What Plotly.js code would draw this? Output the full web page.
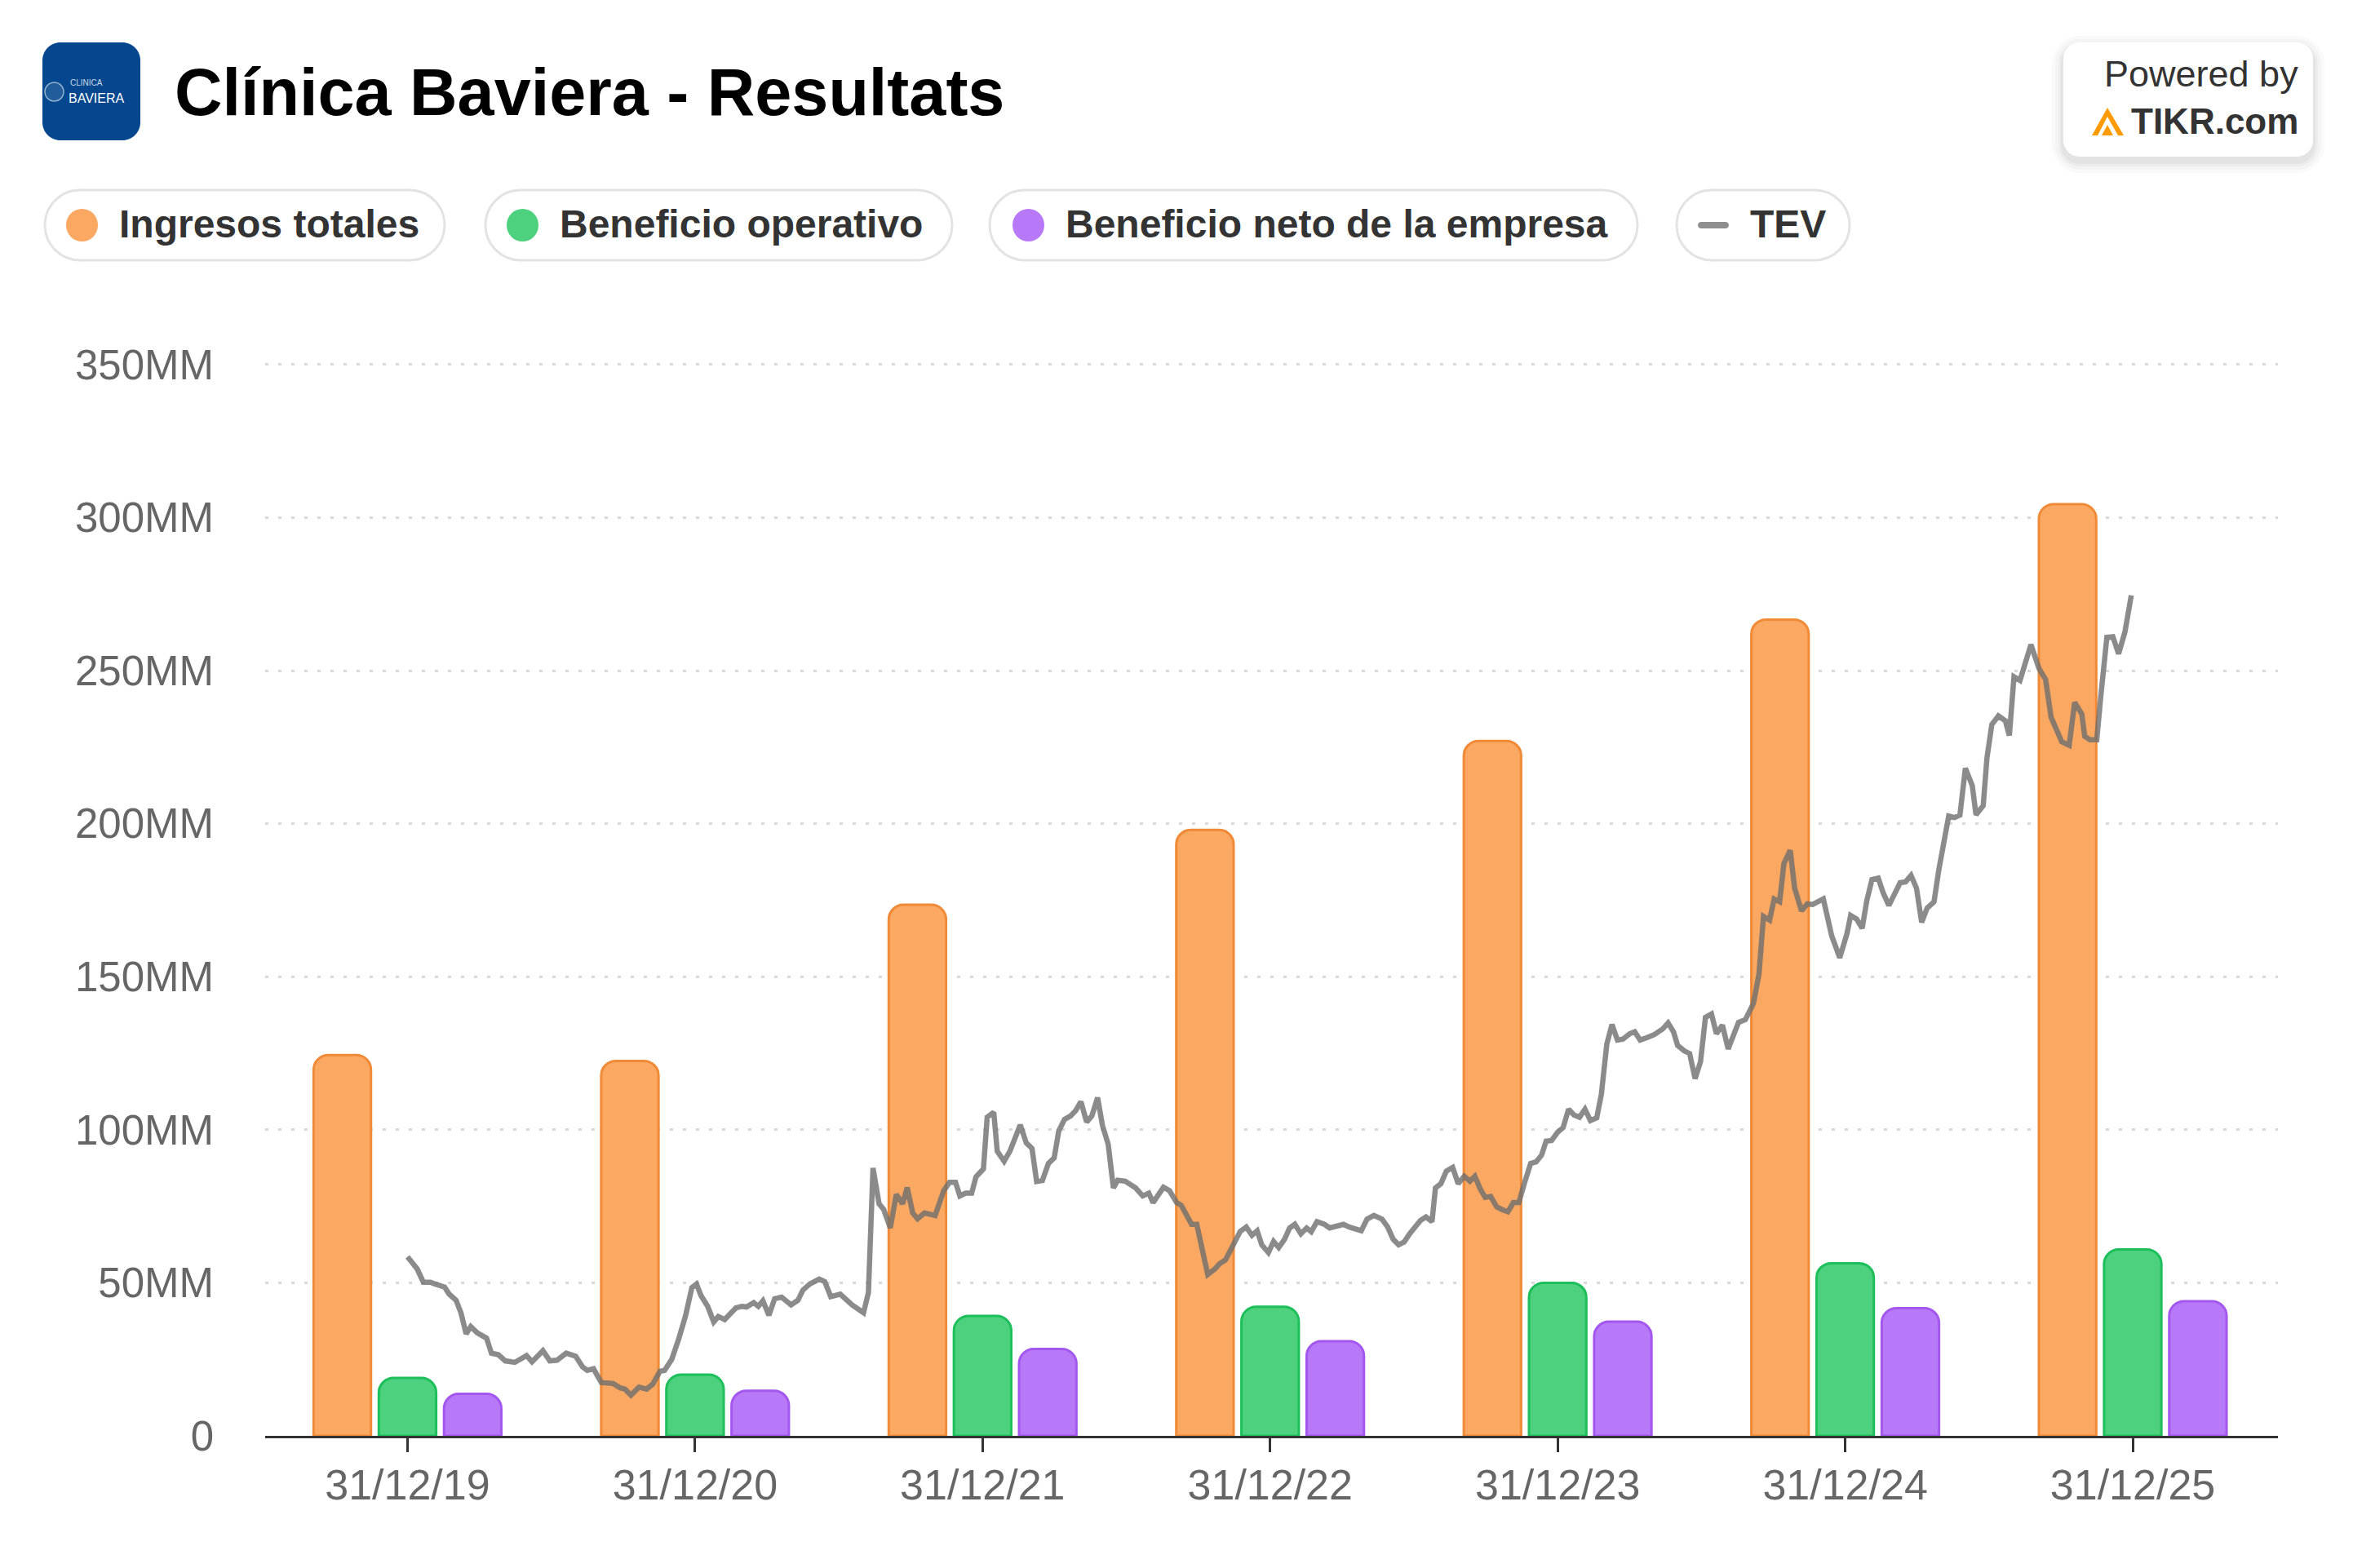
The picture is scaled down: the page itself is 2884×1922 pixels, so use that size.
<!DOCTYPE html>
<html>
<head>
<meta charset="utf-8">
<script src="https://cdn.plot.ly/plotly-3.0.1.min.js"></script>
<style>
html,body{margin:0;padding:0;background:#fff;}
#chart{width:2884px;height:1922px;}
</style>
</head>
<body>
<div id="chart"></div>
<script>
// ---------- DATA ----------
const categories = ['31/12/19','31/12/20','31/12/21','31/12/22','31/12/23','31/12/24','31/12/25'];
const yearIdx = [0,1,2,3,4,5,6];
const ingresosTotales = [124.4,122.5,173.5,198.0,227.0,266.7,304.4];
const beneficioOperativo = [18.9,20.0,39.2,42.2,50.0,56.4,60.9];
const beneficioNeto = [13.7,14.7,28.4,30.9,37.3,41.7,44.0];
const seriesNames = ['Ingresos totales','Beneficio operativo','Beneficio neto de la empresa','TEV'];
const yTickVals = [0,50,100,150,200,250,300,350];
const yTickText = ['0','50MM','100MM','150MM','200MM','250MM','300MM','350MM'];
// TEV: time in years after 31/12/19, value in MM
const tevT = [0.00,0.015,0.034,0.055,0.080,0.096,0.129,0.145,0.169,0.186,0.204,0.220,0.243,0.275,0.292,0.316,0.340,0.373,0.414,0.433,0.471,0.495,0.520,0.552,0.585,0.609,0.625,0.647,0.674,0.715,0.739,0.756,0.777,0.805,0.832,0.853,0.878,0.894,0.919,0.943,0.967,0.989,1.005,1.021,1.044,1.065,1.081,1.103,1.142,1.163,1.179,1.204,1.220,1.236,1.257,1.277,1.301,1.334,1.358,1.375,1.399,1.432,1.451,1.472,1.505,1.546,1.586,1.603,1.619,1.640,1.656,1.679,1.700,1.722,1.738,1.757,1.774,1.798,1.835,
1.865,1.885,1.906,1.921,1.941,1.962,1.977,2.003,2.016,2.039,2.051,2.075,2.095,2.131,2.152,2.172,2.188,2.208,2.229,2.249,2.265,2.285,2.306,2.324,2.342,2.362,2.380,2.400,2.417,2.437,2.455,2.470,2.496,2.532,2.557,2.578,2.593,2.629,2.650,2.675,2.691,2.711,2.727,2.745,2.763,2.783,2.809,2.824,2.845,2.865,2.896,2.917,2.937,2.955,2.971,2.994,3.012,3.030,3.050,3.068,3.086,3.107,3.127,3.143,3.163,3.189,3.207,3.255,3.276,3.317,3.337,3.361,3.389,3.409,
3.428,3.447,3.466,3.485,3.523,3.542,3.563,3.575,3.594,3.613,3.635,3.654,3.675,3.695,3.712,3.731,3.748,3.767,3.788,3.807,3.827,3.846,3.865,3.884,3.906,3.925,3.944,3.960,3.979,4.000,4.019,4.038,4.057,4.076,4.095,4.114,4.136,4.152,4.161,4.171,4.189,4.208,4.227,4.251,4.268,4.287,4.308,4.336,4.365,4.384,4.403,4.417,4.440,4.459,4.478,4.497,4.514,4.535,4.552,4.573,4.593,4.611,4.629,4.653,
4.681,4.700,4.716,4.737,4.753,4.772,4.787,4.809,4.824,4.848,4.868,4.887,4.924,4.953,4.981,5.006,5.019,5.040,5.059,5.075,5.093,5.115,5.133,5.152,5.191,5.210,5.229,5.248,5.266,5.285,5.309,5.325,5.346,5.360,5.380,5.399,5.418,5.442,5.455,5.480,5.493,5.510,5.533,5.557,5.571,5.587,5.608,5.622,5.646,5.674,5.697,5.716,5.753,5.779,5.798,5.823,5.833,5.851,5.875,5.889,5.910,5.931,5.951,5.973,5.995];
const tevV = [58.5,56.7,54.5,50.2,50.2,49.6,48.6,46.3,44.3,40.2,33.3,35.7,33.6,31.9,27.0,26.5,24.5,24.0,26.2,24.2,27.8,24.5,24.7,27.0,26.0,22.5,21.4,21.9,17.4,17.1,15.7,15.3,13.3,15.9,15.3,16.9,21.1,21.4,25.0,31.6,39.2,48.4,49.6,45.8,42.3,37.2,39.0,38.0,41.8,42.3,42.1,43.5,42.3,44.1,39.4,44.8,45.3,42.8,44.3,47.6,49.6,51.2,50.4,45.5,46.3,42.8,40.2,46.8,87.5,75.8,74.0,67.9,78.9,75.8,81.1,72.8,70.9,72.8,72.0,
80.1,82.8,82.8,78.4,79.3,79.3,84.6,87.2,104.1,105.7,93.0,89.7,93.0,101.6,95.7,93.9,83.1,83.4,89.0,90.8,99.6,103.4,104.5,106.3,109.2,102.5,104.5,110.5,101.4,95.2,81.0,83.5,83.2,81.0,78.4,79.3,76.2,81.2,80.1,76.2,75.3,71.3,69.1,69.1,60.6,52.7,54.6,56.2,57.5,61.1,66.8,68.2,65.5,67.0,62.4,59.9,63.5,61.5,64.2,67.9,69.1,66.0,67.9,66.7,70.0,69.1,67.9,69.1,68.2,67.0,70.8,72.0,70.8,68.2,
64.2,62.4,63.3,66.0,70.4,71.5,70.0,81.0,82.4,86.5,87.7,82.4,84.8,83.2,84.8,80.6,77.9,78.2,74.8,73.9,73.2,76.2,76.2,82.4,89.0,89.5,91.7,96.3,96.5,99.2,100.7,106.7,104.8,104.1,106.7,103.0,103.9,111.6,118.7,128.0,134.4,129.3,129.6,131.4,132.0,129.3,130.0,131.1,132.9,134.9,132.0,127.6,125.8,124.9,116.7,122.3,136.7,137.8,131.4,134.2,126.4,130.7,135.1,136.0,
141.3,150.8,169.7,168.5,175.4,174.5,187.0,191.3,179.0,171.5,173.8,173.6,175.4,163.4,156.2,164.0,170.0,168.8,165.8,174.8,181.7,182.2,177.2,173.3,180.7,181.0,183.1,178.9,167.8,172.4,174.5,184.6,195.7,202.5,202.0,202.8,218.1,212.4,202.9,205.9,221.4,232.4,235.2,233.6,228.8,248.0,246.8,251.3,258.5,250.7,247.1,234.8,226.8,225.6,239.6,235.8,228.6,227.4,227.4,241.7,260.9,261.1,255.5,262.7,274.6];

// ---------- STYLE ----------
const W = 2884, H = 1922;
const ML = 325, MR = 92, MT = 445, MB = 162;
const PW = W - ML - MR, PH = H - MT - MB;
const FONT = 'Liberation Sans, Arial, sans-serif';
const fills = ['#FBA862','#4ED17E','#B879F8'];
const borders = ['#F08A37','#1CBF5A','#A457EE'];
const tevColor = 'rgba(110,110,110,0.8)';

function px(x){ return (x - ML) / PW; }
function py(y){ return (H - MB - y) / PH; }
function P(x,y){ return px(x).toFixed(6) + ',' + py(y).toFixed(6); }
function rrect(x0,y0,x1,y1,r){
  const k = r*0.5523;
  return 'M' + P(x0+r,y0) +
    ' L' + P(x1-r,y0) +
    ' C' + P(x1-r+k,y0) + ' ' + P(x1,y0+r-k) + ' ' + P(x1,y0+r) +
    ' L' + P(x1,y1-r) +
    ' C' + P(x1,y1-r+k) + ' ' + P(x1-r+k,y1) + ' ' + P(x1-r,y1) +
    ' L' + P(x0+r,y1) +
    ' C' + P(x0+r-k,y1) + ' ' + P(x0,y1-r+k) + ' ' + P(x0,y1-r) +
    ' L' + P(x0,y0+r) +
    ' C' + P(x0,y0+r-k) + ' ' + P(x0+r-k,y0) + ' ' + P(x0+r,y0) + ' Z';
}

const barCommon = {type:'bar', hoverinfo:'skip', showlegend:false};
const traces = [
  Object.assign({}, barCommon, {name:seriesNames[0], x:yearIdx, y:ingresosTotales,
    marker:{color:fills[0], line:{color:borders[0], width:3}, cornerradius:18}}),
  Object.assign({}, barCommon, {name:seriesNames[1], x:yearIdx, y:beneficioOperativo,
    marker:{color:fills[1], line:{color:borders[1], width:3}, cornerradius:18}}),
  Object.assign({}, barCommon, {name:seriesNames[2], x:yearIdx, y:beneficioNeto,
    marker:{color:fills[2], line:{color:borders[2], width:3}, cornerradius:18}}),
  {type:'scatter', mode:'lines', name:seriesNames[3], x:tevT, y:tevV, hoverinfo:'skip', showlegend:false,
    line:{color:tevColor, width:6.5}}
];

// ---------- HEADER / LEGEND (shapes + annotations) ----------
const shapes = [];
const annotations = [];

// logo
shapes.push({type:'path', xref:'paper', yref:'paper', path:rrect(52,52,172,172,22), fillcolor:'#04478E', line:{width:0}});
shapes.push({type:'circle', xref:'paper', yref:'paper', x0:px(55), x1:px(78), y0:py(124), y1:py(101), line:{color:'rgba(255,255,255,0.55)', width:1.5}, fillcolor:'rgba(255,255,255,0.12)'});
annotations.push({xref:'paper', yref:'paper', x:px(84), y:py(101), xanchor:'left', yanchor:'middle', showarrow:false,
  text:'CLINICA', font:{family:FONT, size:10, color:'rgba(255,255,255,0.8)'}});
annotations.push({xref:'paper', yref:'paper', x:px(82), y:py(120), xanchor:'left', yanchor:'middle', showarrow:false,
  text:'BAVIERA', font:{family:FONT, size:16, color:'#ffffff'}});

// title
annotations.push({xref:'paper', yref:'paper', x:px(212), y:py(113), xanchor:'left', yanchor:'middle', showarrow:false,
  text:'<b>Clínica Baviera - Resultats</b>', font:{family:FONT, size:81, color:'#000000'}});

// powered by box with soft shadow
[[14,0.018],[10,0.022],[6,0.03],[3,0.035]].forEach(function(s){
  shapes.push({type:'path', xref:'paper', yref:'paper', path:rrect(2529-s[0],52-s[0]+6,2835+s[0],192+s[0]+6,20+s[0]), fillcolor:'rgba(0,0,0,'+s[1]+')', line:{width:0}});
});
shapes.push({type:'path', xref:'paper', yref:'paper', path:rrect(2529,52,2835,192,20), fillcolor:'#ffffff', line:{width:0}});
annotations.push({xref:'paper', yref:'paper', x:px(2819), y:py(91), xanchor:'right', yanchor:'middle', showarrow:false,
  text:'Powered by', font:{family:FONT, size:45, color:'#333333'}});
annotations.push({xref:'paper', yref:'paper', x:px(2819), y:py(148), xanchor:'right', yanchor:'middle', showarrow:false,
  text:'<b>TIKR.com</b>', font:{family:FONT, size:44, color:'#333333'}});
// tikr icon
shapes.push({type:'path', xref:'paper', yref:'paper',
  path:'M'+P(2564,166)+' L'+P(2583,132)+' L'+P(2603,166)+' L'+P(2596,166)+' L'+P(2583,143)+' L'+P(2571,166)+' Z',
  fillcolor:'#FF9A00', line:{width:0}});
shapes.push({type:'path', xref:'paper', yref:'paper',
  path:'M'+P(2576,166)+' L'+P(2583,153)+' L'+P(2590,166)+' Z', fillcolor:'#FF9A00', line:{width:0}});

// legend pills
const pills = [[55,545,81,144],[595,1167,621,684],[1213,2007,1241,1304],[2055,2267,2081,2143]];
const pillTop = 233, pillBot = 319, pillMid = 276;
pills.forEach(function(p, i){
  shapes.push({type:'path', xref:'paper', yref:'paper', path:rrect(p[0],pillTop,p[1],pillBot,43), fillcolor:'#ffffff', line:{color:'#E3E3E3', width:3}});
  if (i < 3) {
    shapes.push({type:'circle', xref:'paper', yref:'paper', x0:px(p[2]), x1:px(p[2]+39), y0:py(pillMid+20), y1:py(pillMid-20), fillcolor:fills[i], line:{width:0}});
  } else {
    shapes.push({type:'path', xref:'paper', yref:'paper', path:rrect(p[2],pillMid-4,p[2]+38,pillMid+4,4), fillcolor:'#8f8f8f', line:{width:0}});
  }
  annotations.push({xref:'paper', yref:'paper', x:px(p[3]), y:py(pillMid-2), xanchor:'left', yanchor:'middle', showarrow:false,
    text:'<b>'+seriesNames[i]+'</b>', font:{family:FONT, size:48, color:'#333333'}});
});

const layout = {
  width:W, height:H,
  margin:{l:ML, r:MR, t:MT, b:MB, pad:0},
  paper_bgcolor:'#ffffff', plot_bgcolor:'#ffffff',
  font:{family:FONT, color:'#666666'},
  showlegend:false,
  barmode:'group', bargap:0.32, bargroupgap:0.12,
  xaxis:{range:[-0.495,6.505], tickvals:yearIdx, ticktext:categories, tickmode:'array',
    showgrid:false, zeroline:false, showline:true, linecolor:'#333333', linewidth:3,
    ticks:'outside', ticklen:17, tickwidth:3, tickcolor:'#333333', ticklabelstandoff:-4,
    tickfont:{family:FONT, size:52, color:'#666666'}, fixedrange:true},
  yaxis:{range:[0,350.5], tickvals:yTickVals, ticktext:yTickText, tickmode:'array',
    showgrid:true, gridcolor:'#D9D9D9', gridwidth:3, griddash:'4px,12px',
    zeroline:false, showline:false, ticks:'', ticklabelstandoff:62,
    tickfont:{family:FONT, size:51, color:'#666666'}, fixedrange:true},
  shapes:shapes,
  annotations:annotations
};

Plotly.newPlot('chart', traces, layout, {displayModeBar:false, staticPlot:true});
</script>
</body>
</html>
